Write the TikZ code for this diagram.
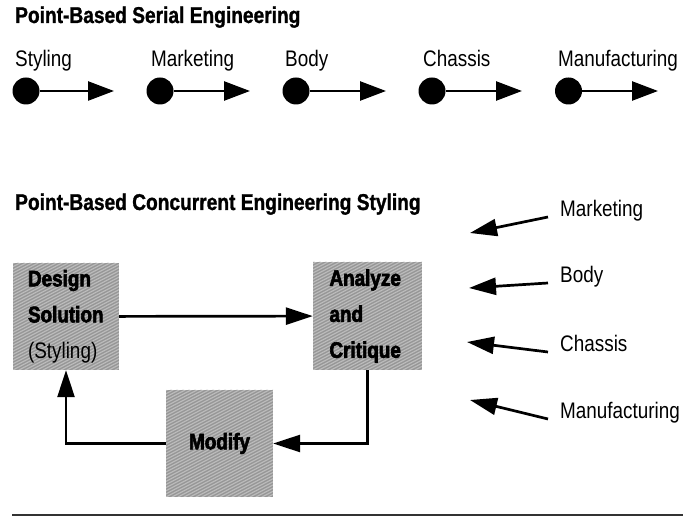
\documentclass[tikz,border=0pt]{standalone}
\usepackage{fontspec}
\setmainfont{Liberation Sans}[FakeStretch=0.84, BoldFeatures={FakeBold=1.2}]
\newfontfamily\heavyface{Liberation Sans Bold}[FakeStretch=0.84, FakeBold=2.8]
\usetikzlibrary{arrows.meta}

\definecolor{boxgray}{RGB}{162,162,162}

\tikzset{
  txt/.style={inner sep=0pt, font=\fontsize{22.5}{26}\selectfont},
  heading/.style={txt, font=\fontsize{22.8}{26}\selectfont\bfseries, anchor=base west},
  steplabel/.style={txt, anchor=base west},
  dot/.style={circle, fill=black, inner sep=0pt, minimum size=27pt},
  arr/.style={line width=2.5pt, -{Triangle[length=26pt,width=19pt]}},
  flow/.style={line width=2.7pt, -{Triangle[length=27pt,width=17pt]}},
  inlabel/.style={txt, anchor=base west, inner xsep=12pt},
  hatched/.style={
    fill=boxgray,
    path picture={
      \foreach \k in {-210,-204,...,115}
        \draw[white, opacity=.32, line width=.8pt]
          ([xshift=\k pt]path picture bounding box.south west) -- ++(230pt,120pt);
      \foreach \k in {-207,-201,...,115}
        \draw[black, opacity=.10, line width=.5pt]
          ([xshift=\k pt]path picture bounding box.south west) -- ++(230pt,120pt);
    }},
  stagebox/.style={hatched, inner xsep=15pt, inner ysep=0pt,
    minimum width=106pt, minimum height=107pt, text width=76pt, align=left,
    font=\fontsize{22.5}{36}\selectfont},
  rule/.style={line width=2pt, black!80}
}

\begin{document}
\begin{tikzpicture}[x=1pt, y=-1pt]
  \useasboundingbox (0,0) rectangle (683,518);

  % ---- serial engineering ----
  \node[heading] (t1) at (15,23) {Point-Based Serial Engineering};

  \node[steplabel] (l1) at (15,67)  {Styling};
  \node[steplabel] (l2) at (151,67) {Marketing};
  \node[steplabel] (l3) at (285,67) {Body};
  \node[steplabel] (l4) at (423,67) {Chassis};
  \node[steplabel] (l5) at (558,67) {Manufacturing};

  \node[dot] (d1) at (26,91) {};
  \node[dot] (d2) at (160,91) {};
  \node[dot] (d3) at (296,91) {};
  \node[dot] (d4) at (432,91) {};
  \node[dot] (d5) at (568.5,91) {};

  \coordinate (e1) at (114,91);
  \coordinate (e2) at (250,91);
  \coordinate (e3) at (386,91);
  \coordinate (e4) at (522,91);
  \coordinate (e5) at (658,91);

  \draw[arr] (d1) -- (e1);
  \draw[arr] (d2) -- (e2);
  \draw[arr] (d3) -- (e3);
  \draw[arr] (d4) -- (e4);
  \draw[arr] (d5) -- (e5);

  % ---- concurrent engineering ----
  \node[heading] (t2) at (15,210) {Point-Based Concurrent Engineering Styling};

  \node[stagebox] (ds) at (66,316.5)
    {{\heavyface Design}\\{\heavyface Solution}\\(Styling)};
  \node[stagebox, minimum width=109pt, minimum height=108pt] (ac) at (367.5,316)
    {{\heavyface Analyze}\\{\heavyface and}\\{\heavyface Critique}};
  \node[stagebox, minimum width=107pt, text width=77pt, align=center] (mod) at (219.5,443.5)
    {{\heavyface Modify}};

  \draw[flow] (ds) -- (ac);
  \draw[flow] (ac.south) |- (mod.east);
  \draw[flow] (mod.west) -| (ds.south);

  % ---- inputs from the other groups ----
  \node[inlabel] (im) at (548,217) {Marketing};
  \node[inlabel] (ib) at (548,283) {Body};
  \node[inlabel] (ic) at (548,352) {Chassis};
  \node[inlabel] (if) at (548,419) {Manufacturing};

  \coordinate (tm) at (470,233);
  \coordinate (tb) at (469,288);
  \coordinate (tc) at (467,342);
  \coordinate (tf) at (470,400);

  \draw[flow] (im.base west) -- (tm);
  \draw[flow] (ib.base west) -- (tb);
  \draw[flow] (ic.base west) -- (tc);
  \draw[flow] (if.base west) -- (tf);

  % ---- bottom rule ----
  \coordinate (r1) at (12,515);
  \coordinate (r2) at (683,515);
  \draw[rule] (r1) -- (r2);
\end{tikzpicture}
\end{document}
